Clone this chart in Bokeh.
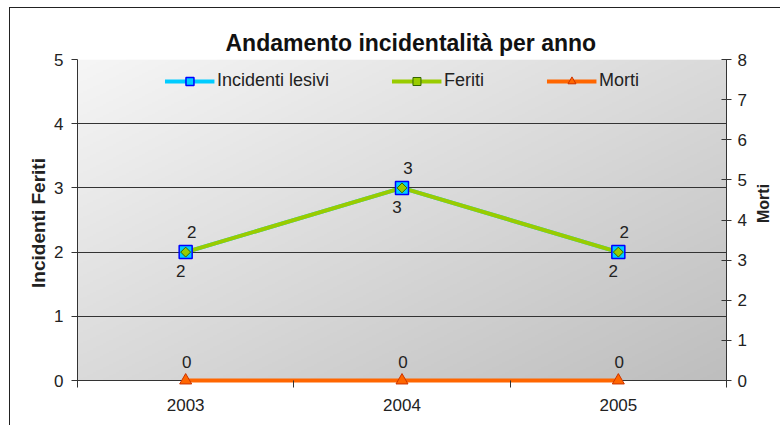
import numpy as np
from bokeh.plotting import figure
from bokeh.core.properties import value
from bokeh.models import (Range1d, LinearAxis, FixedTicker, ColumnDataSource, LabelSet,
                          Legend, LegendItem)
from bokeh.embed import file_html
from bokeh.resources import INLINE

# ---- data ----
years = ["2003", "2004", "2005"]
incidenti = [2, 3, 2]
feriti = [2, 3, 2]
morti = [0, 0, 0]
left_ticks = [0, 1, 2, 3, 4, 5]
right_ticks = [0, 1, 2, 3, 4, 5, 6, 7, 8]

FONT = "Liberation Sans"
TXT = "#222222"
xs = [i + 0.5 for i in range(len(years))]

frame_h = 327
pad = 6
left_max = left_ticks[-1]
right_max = right_ticks[-1]
left_start = -pad * left_max / (frame_h - pad)
right_start = -pad * right_max / (frame_h - pad)

p = figure(frame_width=649, frame_height=frame_h,
           min_border_left=67, min_border_right=53, min_border_top=51, min_border_bottom=39,
           x_range=Range1d(0, len(years)), y_range=Range1d(left_start, left_max),
           output_backend="svg", toolbar_location=None)
p.extra_y_ranges = {"morti": Range1d(right_start, right_max)}
p.outline_line_color = None
p.background_fill_color = "white"
p.border_fill_color = "white"
p.styles = {"border-top": "1px solid #222", "border-left": "1px solid #222",
            "margin-top": "7px", "margin-left": "9px"}

# title
p.title.text = "Andamento incidentalità per anno"
p.title.text_font = FONT
p.title.text_font_size = "23px"
p.title.text_font_style = "bold"
p.title.text_color = "#111111"
p.title.align = "left"
p.title.offset = 148
p.title.standoff = 8

# gradient plot area
n = 200
u = np.linspace(0, 1, n)[None, :]
v = np.linspace(0, 1, n)[:, None]
t = (u + (1 - v)) / 2
gray = (246 - 56 * t).astype(np.uint8)
img = np.empty((n, n), dtype=np.uint32)
view = img.view(dtype=np.uint8).reshape((n, n, 4))
view[:, :, 0] = gray
view[:, :, 1] = gray
view[:, :, 2] = gray
view[:, :, 3] = 255
p.image_rgba(image=[img], x=0, y=0, dw=len(years), dh=left_max, level="image")

# grids (the 0 line doubles as the category axis line)
p.xgrid.visible = False
p.ygrid.ticker = FixedTicker(ticks=left_ticks)
p.ygrid.grid_line_color = "#333333"
p.ygrid.grid_line_width = 1

# x axis
xa = p.xaxis[0]
xa.ticker = FixedTicker(ticks=xs, minor_ticks=list(range(len(years) + 1)))
xa.major_label_overrides = {x: y for x, y in zip(xs, years)}
xa.major_tick_out = 0
xa.major_tick_in = 0
xa.minor_tick_out = 1
xa.minor_tick_in = pad
xa.minor_tick_line_color = "#333333"
xa.axis_line_color = None
xa.major_label_standoff = 11
xa.major_label_text_font = FONT
xa.major_label_text_font_size = "17px"
xa.major_label_text_color = TXT

# left axis
ya = p.yaxis[0]
ya.ticker = FixedTicker(ticks=left_ticks)
ya.major_tick_out = 6
ya.major_tick_in = 0
ya.minor_tick_line_color = None
ya.axis_line_color = "#333333"
ya.major_tick_line_color = "#333333"
ya.major_label_standoff = 8
ya.major_label_text_font = FONT
ya.major_label_text_font_size = "17px"
ya.major_label_text_color = TXT
ya.axis_label = "Incidenti Feriti"
ya.axis_label_text_font = FONT
ya.axis_label_text_font_size = "19px"
ya.axis_label_text_font_style = "bold"
ya.axis_label_text_color = TXT
ya.axis_label_standoff = 2

# right axis
ra = LinearAxis(y_range_name="morti", ticker=FixedTicker(ticks=right_ticks))
ra.major_tick_out = 5
ra.major_tick_in = 5
ra.minor_tick_line_color = None
ra.axis_line_color = "#333333"
ra.major_tick_line_color = "#333333"
ra.major_label_standoff = 6
ra.major_label_text_font = FONT
ra.major_label_text_font_size = "17px"
ra.major_label_text_color = TXT
ra.axis_label = "Morti"
ra.axis_label_orientation = np.pi / 2
ra.axis_label_text_font = FONT
ra.axis_label_text_font_size = "16px"
ra.axis_label_text_font_style = "bold"
ra.axis_label_text_color = TXT
ra.axis_label_standoff = 14
p.add_layout(ra, "right")

src = ColumnDataSource(dict(
    x=xs, inc=incidenti, fer=feriti, mor=morti,
    inc_t=[str(v) for v in incidenti], fer_t=[str(v) for v in feriti], mor_t=[str(v) for v in morti],
))

inc_line = p.line("x", "inc", source=src, line_color="#00ccff", line_width=4)
fer_line = p.line("x", "fer", source=src, line_color="#99cc00", line_width=4)
inc_mk = p.scatter("x", "inc", source=src, marker="square", size=13,
                   fill_color="#00ccff", line_color="#0000ff", line_width=1.5)
fer_mk = p.scatter("x", "fer", source=src, marker="square", angle=np.pi / 4, size=7,
                   fill_color="#99cc00", line_color="#336600", line_width=1)
mor_line = p.line("x", "mor", source=src, y_range_name="morti", line_color="#ff6600", line_width=4)
mor_mk = p.scatter("x", "mor", source=src, y_range_name="morti", marker="triangle", size=12,
                   fill_color="#ff6600", line_color="#cc3300", line_width=1)

lbl_kw = dict(text_font=value(FONT), text_font_size="17px", text_color=TXT,
              text_align="center", text_baseline="middle")
p.add_layout(LabelSet(x="x", y="inc", text="inc_t", source=src, x_offset=-5, y_offset=-19, **lbl_kw))
p.add_layout(LabelSet(x="x", y="fer", text="fer_t", source=src, x_offset=6, y_offset=20, **lbl_kw))
p.add_layout(LabelSet(x="x", y="mor", text="mor_t", source=src, y_range_name="morti",
                      x_offset=1, y_offset=19, **lbl_kw))

legend = Legend(items=[
    LegendItem(label="Incidenti lesivi", renderers=[inc_line, inc_mk]),
    LegendItem(label="Feriti", renderers=[fer_line, fer_mk]),
    LegendItem(label="Morti", renderers=[mor_line, mor_mk]),
], location="top_center", orientation="horizontal")
legend.background_fill_alpha = 0
legend.border_line_color = None
legend.label_text_font = FONT
legend.label_text_font_size = "18px"
legend.label_text_color = TXT
legend.glyph_width = 50
legend.glyph_height = 20
legend.label_height = 20
legend.label_standoff = 3
legend.spacing = 62
legend.padding = 10
legend.margin = 11
p.add_layout(legend)

open("out.html", "w").write(file_html(p, INLINE))
